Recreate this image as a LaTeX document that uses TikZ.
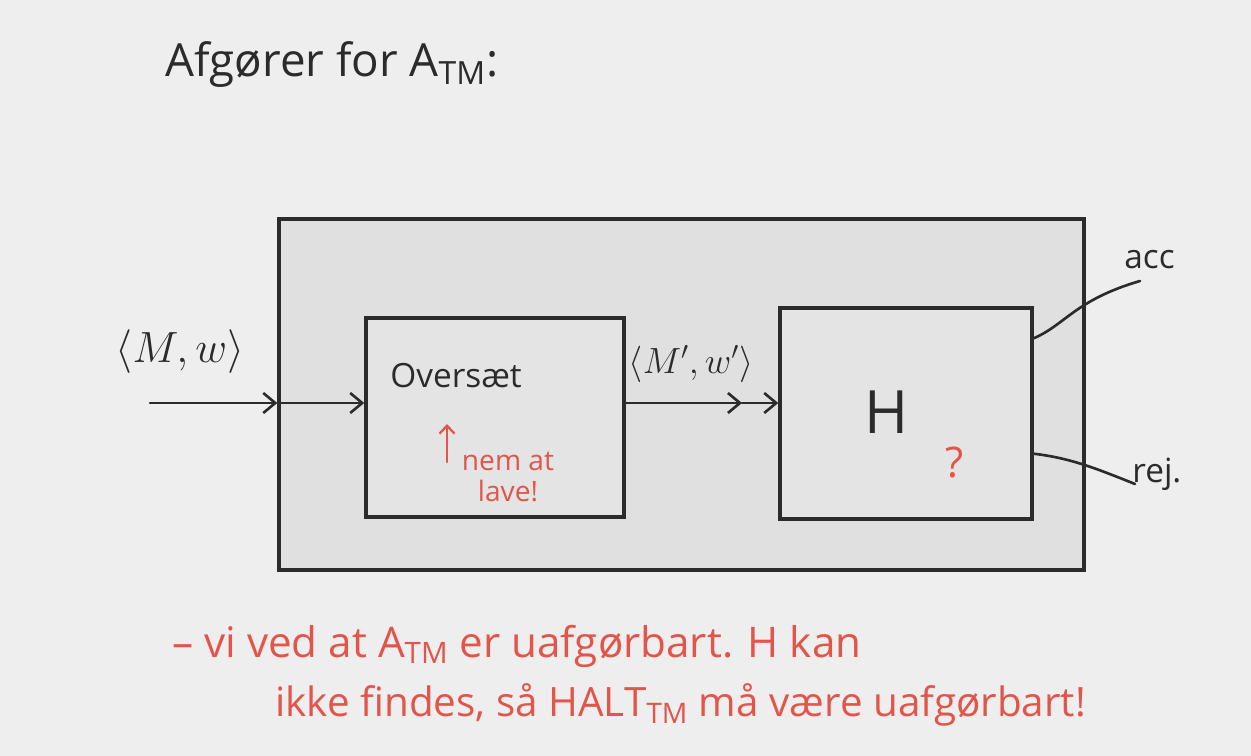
\documentclass[tikz,border=0pt]{standalone}
\usepackage{fontspec}
\setmainfont{Open Sans}
\usetikzlibrary{arrows.meta,positioning,calc}
\definecolor{paper}{HTML}{EEEEEE}
\definecolor{boxgrey}{HTML}{E0E0E0}
\definecolor{innergrey}{HTML}{E4E4E4}
\definecolor{inkred}{HTML}{E2554B}
\definecolor{inkdark}{HTML}{2B2B2B}
\tikzset{machine/.style={rectangle,draw=inkdark,line width=2pt,fill=innergrey,inner sep=0pt},flow/.style={-{Straight Barb[length=2.4mm,width=4mm]},line width=1.5pt,inkdark},wire/.style={line width=1.5pt,inkdark},hand/.style={font=\fontsize{19}{24}\selectfont,text=inkdark,inner sep=0pt},note/.style={font=\fontsize{23}{30}\selectfont,text=inkred,inner sep=0pt},every picture/.style={line cap=round}}

\begin{document}
\begin{tikzpicture}[x=0.02cm,y=-0.02cm]
\fill[paper] (0,0) rectangle (1251,756);
\useasboundingbox (0,0) rectangle (1251,756);
\node[hand,font=\fontsize{26}{30}\selectfont,anchor=west] (title) at (165,65) {Afgører for A\textsubscript{TM}:};
% the decider built from the translation and H
\node[machine,fill=boxgrey,minimum width=16.1cm,minimum height=7.02cm] (decider) at (681.5,394.5) {};
\node[machine,minimum width=5.16cm,minimum height=3.98cm] (oversaet) at (495,417.5) {};
\node[machine,minimum width=5.04cm,minimum height=4.22cm] (halt) at (906,413.5) {};
\node[hand,anchor=west] (otext) at (390,376) {Oversæt};
\node[hand,font=\fontsize{34}{40}\selectfont] (htext) at (887,412) {H};
\node[note,font=\fontsize{24}{28}\selectfont] (qmark) at (955,463) {?};
\coordinate (input) at (150,403); \coordinate (mid) at (742,403);
\draw[flow] (input) -- (decider.west |- input);
\draw[flow] (decider.west |- input) -- (oversaet.west |- input);
\draw[flow] (oversaet.east |- mid) -- (mid);
\draw[flow] (mid) -- (halt.west |- mid);
\node[hand,font=\fontsize{25}{30}\selectfont] (inlabel) at (180,352) {$\langle M,w\rangle$};
\node[hand,font=\fontsize{21}{26}\selectfont] (midlabel) at (691,364) {$\langle M',w'\rangle$};
% outputs of H
\coordinate (accend) at (1140,281); \coordinate (rejend) at (1135,484);
\draw[wire] ($(halt.north east)+(0,32)$) .. controls (1065,325) and (1075,300) .. (accend);
\draw[wire] ($(halt.south east)+(0,-67)$) .. controls (1070,458) and (1095,468) .. (rejend);
\node[hand,anchor=west] (acc) at (1124,260) {acc};
\node[hand,anchor=west] (rej) at (1132,474) {rej.};
% remarks
\coordinate (easytip) at (447,424);
\draw[inkred,line width=1.3pt,-{Straight Barb[length=1.6mm,width=3mm]}] (447,462) -- (easytip);
\node[note,font=\fontsize{16}{18}\selectfont,align=center] (easy) at (508,477) {nem at\\lave!};
\node[note,font=\fontsize{24}{30}\selectfont,anchor=west] (line1) at (172,646) {– vi ved at A\textsubscript{TM} er uafgørbart. H kan};
\node[note,anchor=west] (line2) at (275,705) {ikke findes, så HALT\textsubscript{TM} må være uafgørbart!};
\end{tikzpicture}
\end{document}
